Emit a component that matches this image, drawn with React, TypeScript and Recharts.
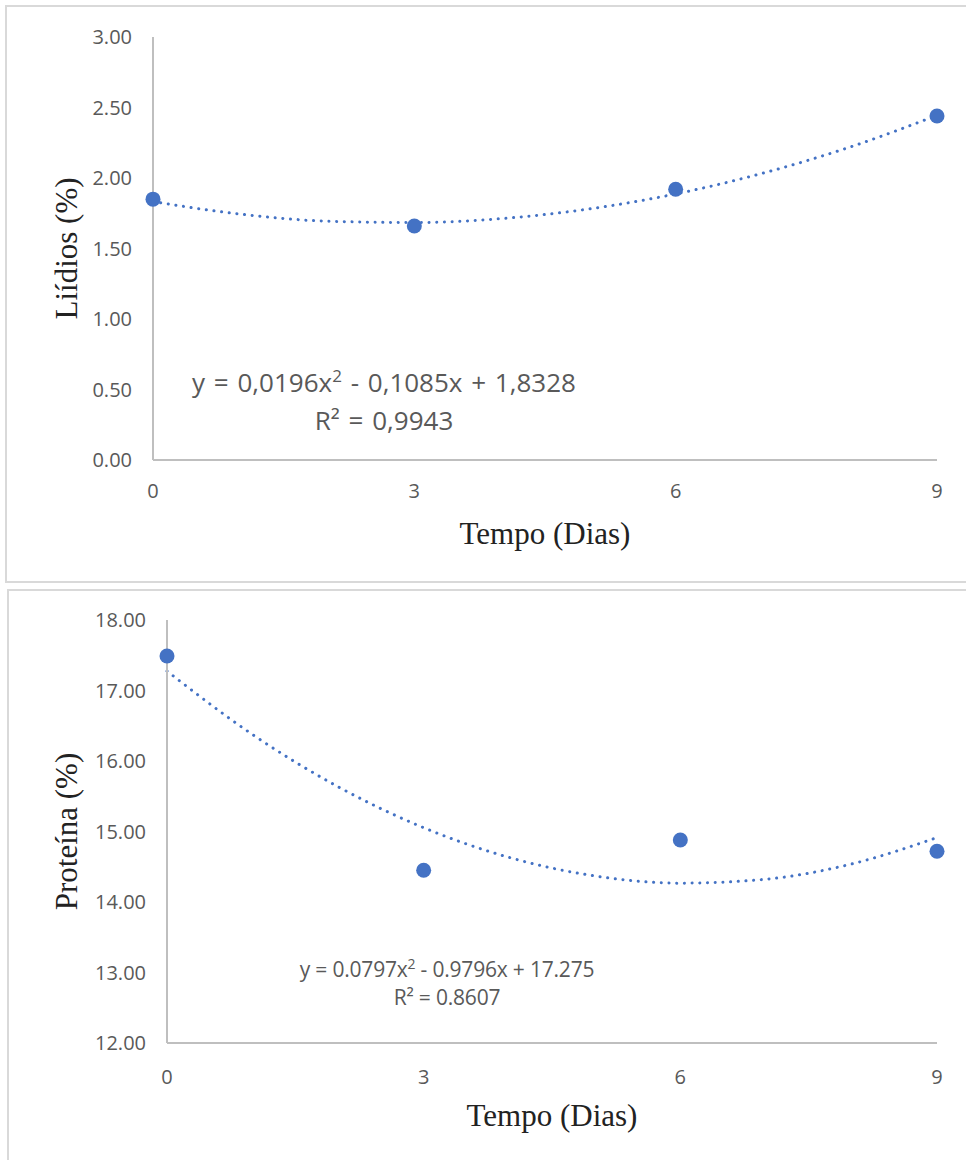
import { ComposedChart, Line, Scatter, XAxis, YAxis, Label } from 'recharts';

// dias de armazenamento
const days = [0, 3, 6, 9];
const dayTicks = [0, 3, 6, 9];

// valores medidos
const lipidValues = [1.85, 1.66, 1.92, 2.44];
const proteinValues = [17.49, 14.45, 14.88, 14.72];

// linha de tendência polinomial (x = 0..9)
const fitDays = [0, 1, 2, 3, 4, 5, 6, 7, 8, 9];
const lipidFit = [1.833, 1.744, 1.694, 1.684, 1.712, 1.780, 1.887, 2.034, 2.219, 2.444];
const proteinFit = [17.275, 16.375, 15.635, 15.054, 14.632, 14.370, 14.267, 14.323, 14.539, 14.914];

const lipidTicks = [0, 0.5, 1, 1.5, 2, 2.5, 3];
const proteinTicks = [12, 13, 14, 15, 16, 17, 18];

const BLUE = '#4472C4';
const AXIS_GRAY = '#BFBFBF';
const TEXT_GRAY = '#595959';
const SERIF = '"Liberation Serif", "Times New Roman", serif';
const SANS = '"Open Sans", "Noto Sans", sans-serif';

interface PanelProps {
  top: number;
  width: number;
  height: number;
  margin: { top: number; right: number; left: number; bottom: number };
  yAxisWidth: number;
  xAxisHeight: number;
  yDomain: [number, number];
  yTicks: number[];
  values: number[];
  fit: number[];
  yTitle: string;
  xTitleY: number;
  xTickMargin: number;
}

function Dot(props: any) {
  const { cx, cy } = props;
  if (cx == null || cy == null) return null;
  return <circle cx={cx} cy={cy} r={7.5} fill={BLUE} />;
}

function Panel({
  top,
  width,
  height,
  margin,
  yAxisWidth,
  xAxisHeight,
  yDomain,
  yTicks,
  values,
  fit,
  yTitle,
  xTitleY,
  xTickMargin,
}: PanelProps) {
  const points = days.map((d, i) => ({ x: d, y: values[i] }));
  const trend = fitDays.map((d, i) => ({ x: d, y: fit[i] }));
  const plotMid = margin.top + (height - margin.top - margin.bottom - xAxisHeight) / 2;

  return (
    <div style={{ position: 'absolute', left: 0, top, width, height }}>
      <ComposedChart width={width} height={height} margin={margin}>
        <XAxis
          dataKey="x"
          type="number"
          domain={[0, 9]}
          ticks={dayTicks}
          height={xAxisHeight}
          tickLine={false}
          tickSize={0}
          tickMargin={xTickMargin}
          axisLine={{ stroke: AXIS_GRAY, strokeWidth: 2 }}
          tick={{ fill: TEXT_GRAY, fontSize: 20, fontFamily: SANS }}
        >
          <Label
            content={({ viewBox }: any) => (
              <text
                x={viewBox.x + viewBox.width / 2}
                y={xTitleY}
                textAnchor="middle"
                dominantBaseline="central"
                fontFamily={SERIF}
                fontSize={31}
                fill="#222"
              >
                Tempo (Dias)
              </text>
            )}
          />
        </XAxis>
        <YAxis
          type="number"
          domain={yDomain}
          ticks={yTicks}
          width={yAxisWidth}
          tickLine={false}
          tickSize={0}
          tickMargin={21}
          axisLine={{ stroke: AXIS_GRAY, strokeWidth: 2 }}
          tickFormatter={(v) => Number(v).toFixed(2)}
          tick={{ fill: TEXT_GRAY, fontSize: 20, fontFamily: SANS }}
        >
          <Label
            content={() => (
              <text
                x={66}
                y={plotMid}
                transform={`rotate(-90, 66, ${plotMid})`}
                textAnchor="middle"
                dominantBaseline="central"
                fontFamily={SERIF}
                fontSize={31}
                fill="#222"
              >
                {yTitle}
              </text>
            )}
          />
        </YAxis>
        <Line
          data={trend}
          dataKey="y"
          type="monotone"
          stroke={BLUE}
          strokeWidth={3}
          strokeDasharray="0.1 7.6"
          strokeLinecap="round"
          dot={false}
          activeDot={false}
          isAnimationActive={false}
        />
        <Scatter data={points} dataKey="y" fill={BLUE} shape={Dot} isAnimationActive={false} />
      </ComposedChart>
    </div>
  );
}

export default function App() {
  return (
    <div
      style={{
        position: 'absolute',
        left: 0,
        top: 0,
        width: 966,
        height: 1160,
        overflow: 'hidden',
        background: '#fff',
      }}
    >
      {/* molduras dos gráficos */}
      <div
        style={{
          position: 'absolute',
          left: 5,
          top: 5,
          width: 980,
          height: 574,
          border: '2px solid #D9D9D9',
        }}
      />
      <div
        style={{
          position: 'absolute',
          left: 7,
          top: 589,
          width: 980,
          height: 600,
          border: '2px solid #D9D9D9',
        }}
      />

      <Panel
        top={0}
        width={966}
        height={582}
        margin={{ top: 37, right: 29, left: 0, bottom: 0 }}
        yAxisWidth={153}
        xAxisHeight={122}
        yDomain={[0, 3]}
        yTicks={lipidTicks}
        values={lipidValues}
        fit={lipidFit}
        yTitle="Liídios (%)"
        xTitleY={533}
        xTickMargin={24}
      />
      <Panel
        top={590}
        width={966}
        height={570}
        margin={{ top: 30, right: 29, left: 0, bottom: 0 }}
        yAxisWidth={167}
        xAxisHeight={117}
        yDomain={[12, 18]}
        yTicks={proteinTicks}
        values={proteinValues}
        fit={proteinFit}
        yTitle="Proteína (%)"
        xTitleY={525}
        xTickMargin={27}
      />

      {/* equações das linhas de tendência */}
      <div
        style={{
          position: 'absolute',
          left: 164,
          top: 363,
          width: 440,
          textAlign: 'center',
          fontFamily: SANS,
          fontSize: 26,
          lineHeight: '38px',
          color: TEXT_GRAY,
          wordSpacing: 2,
        }}
      >
        <div>
          y = 0,0196x<sup style={{ fontSize: 17, lineHeight: 0 }}>2</sup> - 0,1085x + 1,8328
        </div>
        <div>R² = 0,9943</div>
      </div>
      <div
        style={{
          position: 'absolute',
          left: 272,
          top: 955,
          width: 350,
          textAlign: 'center',
          fontFamily: SANS,
          fontSize: 21,
          lineHeight: '28px',
          color: TEXT_GRAY,
          letterSpacing: -0.2,
        }}
      >
        <div>
          y = 0.0797x<sup style={{ fontSize: 14, lineHeight: 0 }}>2</sup> - 0.9796x + 17.275
        </div>
        <div>R² = 0.8607</div>
      </div>
    </div>
  );
}
